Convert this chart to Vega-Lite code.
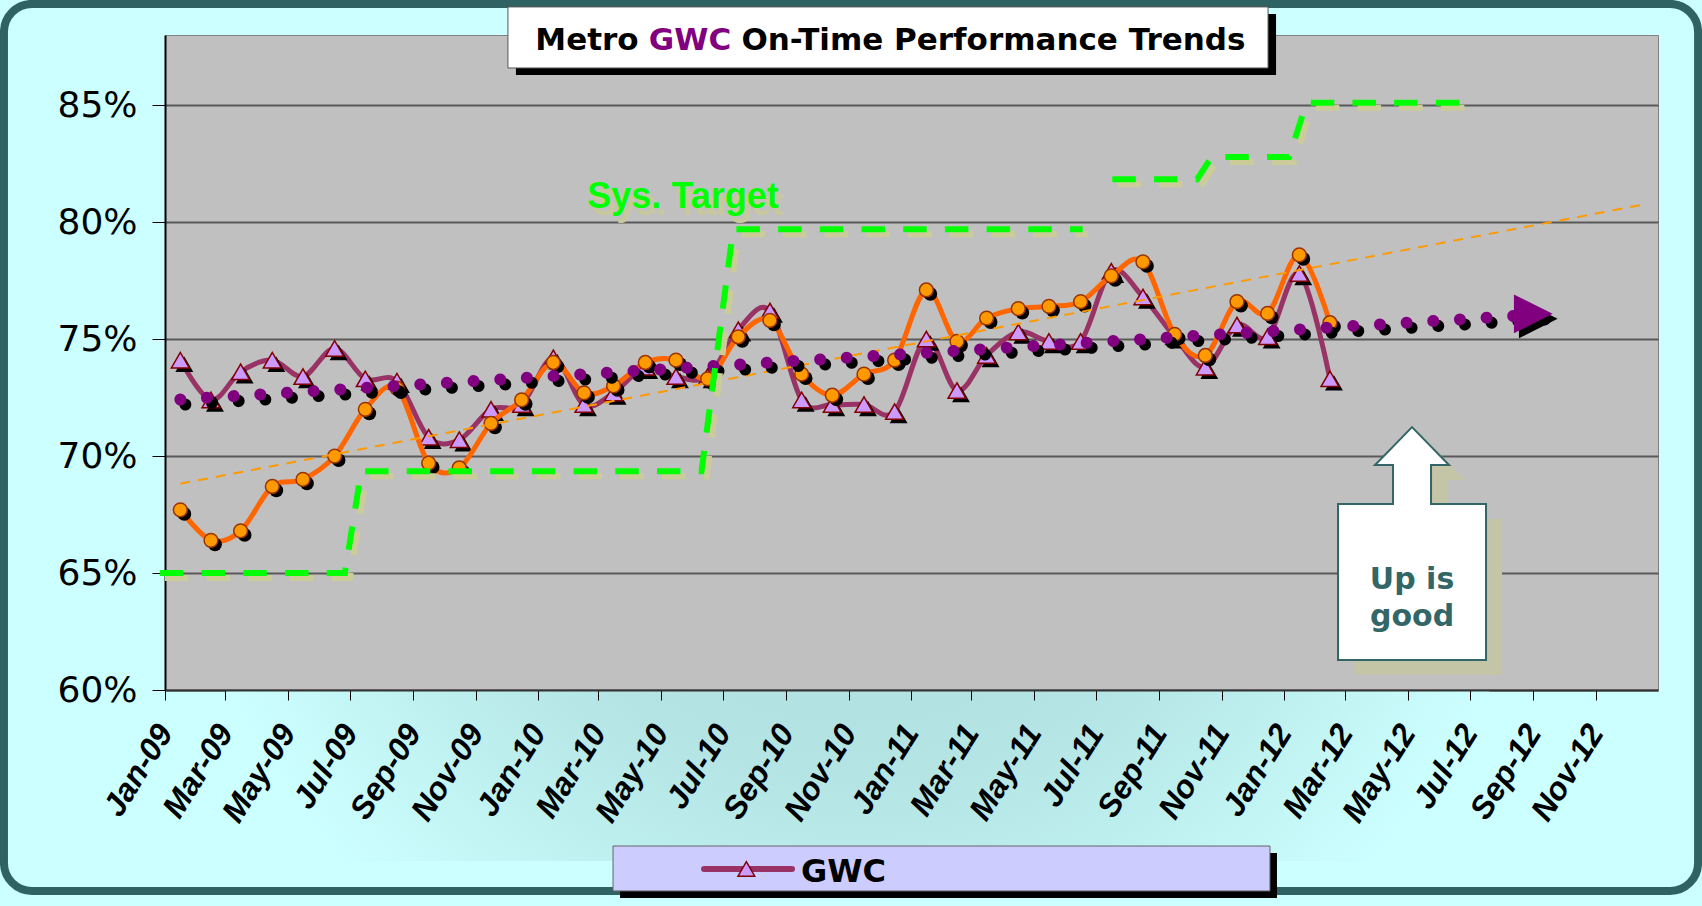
{
  "$schema": "https://vega.github.io/schema/vega-lite/v6.json",
  "width": 1493,
  "height": 655,
  "autosize": {"type": "none"},
  "padding": {"left": 165, "top": 35, "right": 44, "bottom": 216},
  "background": "#CCFFFF",
  "config": {"view": {"fill": "#C0C0C0", "stroke": "#808080", "strokeWidth": 1}},
  "datasets": {
    "monthly": [
      {"month": "2009-01-16", "GWC": 0.741, "System": 0.677},
      {"month": "2009-02-15", "GWC": 0.724, "System": 0.664},
      {"month": "2009-03-16", "GWC": 0.736, "System": 0.668},
      {"month": "2009-04-16", "GWC": 0.741, "System": 0.687},
      {"month": "2009-05-16", "GWC": 0.734, "System": 0.690},
      {"month": "2009-06-16", "GWC": 0.746, "System": 0.700},
      {"month": "2009-07-16", "GWC": 0.733, "System": 0.720},
      {"month": "2009-08-16", "GWC": 0.732, "System": 0.729},
      {"month": "2009-09-16", "GWC": 0.708, "System": 0.697},
      {"month": "2009-10-16", "GWC": 0.707, "System": 0.695},
      {"month": "2009-11-16", "GWC": 0.720, "System": 0.714},
      {"month": "2009-12-16", "GWC": 0.722, "System": 0.724},
      {"month": "2010-01-16", "GWC": 0.742, "System": 0.740},
      {"month": "2010-02-15", "GWC": 0.722, "System": 0.727},
      {"month": "2010-03-16", "GWC": 0.727, "System": 0.730},
      {"month": "2010-04-16", "GWC": 0.738, "System": 0.740},
      {"month": "2010-05-16", "GWC": 0.734, "System": 0.741},
      {"month": "2010-06-16", "GWC": 0.734, "System": 0.733},
      {"month": "2010-07-16", "GWC": 0.754, "System": 0.751},
      {"month": "2010-08-16", "GWC": 0.762, "System": 0.758},
      {"month": "2010-09-16", "GWC": 0.724, "System": 0.735},
      {"month": "2010-10-16", "GWC": 0.722, "System": 0.726},
      {"month": "2010-11-16", "GWC": 0.722, "System": 0.735},
      {"month": "2010-12-16", "GWC": 0.719, "System": 0.741},
      {"month": "2011-01-16", "GWC": 0.750, "System": 0.771},
      {"month": "2011-02-15", "GWC": 0.728, "System": 0.749},
      {"month": "2011-03-16", "GWC": 0.743, "System": 0.759},
      {"month": "2011-04-16", "GWC": 0.753, "System": 0.763},
      {"month": "2011-05-16", "GWC": 0.749, "System": 0.764},
      {"month": "2011-06-16", "GWC": 0.749, "System": 0.766},
      {"month": "2011-07-16", "GWC": 0.779, "System": 0.777},
      {"month": "2011-08-16", "GWC": 0.768, "System": 0.783},
      {"month": "2011-09-16", "GWC": 0.751, "System": 0.752},
      {"month": "2011-10-16", "GWC": 0.738, "System": 0.743},
      {"month": "2011-11-16", "GWC": 0.756, "System": 0.766},
      {"month": "2011-12-16", "GWC": 0.751, "System": 0.761},
      {"month": "2012-01-16", "GWC": 0.778, "System": 0.786},
      {"month": "2012-02-15", "GWC": 0.733, "System": 0.757}
    ],
    "trends": [
      {"series": "GWC", "month": "2009-01-16", "trend": 0.7242},
      {"series": "GWC", "month": "2012-09-16", "trend": 0.7608},
      {"series": "System", "month": "2009-01-16", "trend": 0.6882},
      {"series": "System", "month": "2012-12-16", "trend": 0.8074}
    ],
    "target": [
      {"segment": "A", "date": "2008-12-27", "target": 0.650},
      {"segment": "A", "date": "2009-06-26", "target": 0.650},
      {"segment": "A", "date": "2009-07-12", "target": 0.6935},
      {"segment": "A", "date": "2010-06-10", "target": 0.6935},
      {"segment": "A", "date": "2010-07-11", "target": 0.797},
      {"segment": "A", "date": "2011-06-18", "target": 0.797},
      {"segment": "B", "date": "2011-07-17", "target": 0.8183},
      {"segment": "B", "date": "2011-10-08", "target": 0.8183},
      {"segment": "B", "date": "2011-10-22", "target": 0.8278},
      {"segment": "B", "date": "2012-01-06", "target": 0.8278},
      {"segment": "B", "date": "2012-01-23", "target": 0.851},
      {"segment": "B", "date": "2012-06-26", "target": 0.851}
    ]
  },
  "layer": [
    {
      "data": {"values": [{}]},
      "mark": {"type": "rect", "fill": null, "fillOpacity": 0, "stroke": "#2F6363", "strokeWidth": 8, "cornerRadius": 28, "opacity": 1},
      "encoding": {
        "x": {"datum": {"year": 2008, "month": 7, "date": 27, "hours": 10}, "type": "temporal", "title": null},
        "x2": {"datum": {"year": 2013, "month": 2, "date": 9, "hours": 5}},
        "y": {"datum": 0.8933, "type": "quantitative", "title": null},
        "y2": {"datum": 0.5141}
      }
    },
    {
      "data": {"values": [{}]},
      "mark": {
        "type": "rect", "opacity": 1,
        "fill": {"gradient": "radial", "x1": 0.5, "y1": 0.2, "r1": 0, "x2": 0.5, "y2": 0.2, "r2": 0.55,
                 "stops": [{"offset": 0, "color": "#A9D9D9"}, {"offset": 0.55, "color": "#B4E4E4"}, {"offset": 1, "color": "#CCFFFF"}]}
      },
      "encoding": {
        "x": {"datum": {"year": 2009, "month": 3, "date": 2}, "type": "temporal", "title": null},
        "x2": {"datum": {"year": 2012, "month": 7, "date": 20}},
        "y": {"datum": 0.6, "type": "quantitative", "title": null},
        "y2": {"datum": 0.527}
      }
    },
    {
      "data": {"name": "monthly"},
      "mark": {"type": "line", "color": "#993366", "strokeWidth": 5, "interpolate": "cardinal"},
      "encoding": {
        "x": {
          "field": "month", "type": "temporal", "title": null,
          "scale": {"domain": [{"year": 2009, "month": 1, "date": 1}, {"year": 2013, "month": 1, "date": 1}]},
          "axis": {
            "values": [
              {"year": 2009, "month": 1, "date": 1}, {"year": 2009, "month": 3, "date": 1}, {"year": 2009, "month": 5, "date": 1},
              {"year": 2009, "month": 7, "date": 1}, {"year": 2009, "month": 9, "date": 1}, {"year": 2009, "month": 11, "date": 1},
              {"year": 2010, "month": 1, "date": 1}, {"year": 2010, "month": 3, "date": 1}, {"year": 2010, "month": 5, "date": 1},
              {"year": 2010, "month": 7, "date": 1}, {"year": 2010, "month": 9, "date": 1}, {"year": 2010, "month": 11, "date": 1},
              {"year": 2011, "month": 1, "date": 1}, {"year": 2011, "month": 3, "date": 1}, {"year": 2011, "month": 5, "date": 1},
              {"year": 2011, "month": 7, "date": 1}, {"year": 2011, "month": 9, "date": 1}, {"year": 2011, "month": 11, "date": 1},
              {"year": 2012, "month": 1, "date": 1}, {"year": 2012, "month": 3, "date": 1}, {"year": 2012, "month": 5, "date": 1},
              {"year": 2012, "month": 7, "date": 1}, {"year": 2012, "month": 9, "date": 1}, {"year": 2012, "month": 11, "date": 1}
            ],
            "format": "%b-%y",
            "labelAngle": -58, "labelAlign": "right", "labelBaseline": "middle",
            "labelFont": "Liberation Sans", "labelFontSize": 32, "labelFontWeight": "bold", "labelFontStyle": "italic",
            "labelColor": "#000000", "labelPadding": 27, "labelOverlap": false, "labelBound": false, "labelFlush": false,
            "tickSize": 10, "tickColor": "#000000", "tickWidth": 1,
            "domainColor": "#333333", "domainWidth": 2, "grid": false, "zindex": 1
          }
        },
        "y": {
          "field": "GWC", "type": "quantitative", "title": null,
          "scale": {"domain": [0.6, 0.88], "nice": false, "zero": false},
          "axis": {
            "values": [0.6, 0.65, 0.7, 0.75, 0.8, 0.85], "format": ".0%",
            "labelFont": "DejaVu Sans", "labelFontSize": 36, "labelColor": "#000000", "labelPadding": 15,
            "tickSize": 13, "tickColor": "#000000", "domainColor": "#000000", "domainWidth": 2,
            "grid": true, "gridColor": "#595959", "gridWidth": 2, "gridOpacity": 1
          }
        }
      }
    },
    {
      "data": {"name": "monthly"},
      "mark": {"type": "point", "shape": "triangle-up", "filled": true, "color": "#000000", "size": 320, "opacity": 1, "xOffset": 4, "yOffset": 4},
      "encoding": {
        "x": {"field": "month", "type": "temporal", "title": null},
        "y": {"field": "GWC", "type": "quantitative", "title": null}
      }
    },
    {
      "data": {"name": "monthly"},
      "mark": {"type": "point", "shape": "triangle-up", "filled": true, "fill": "#CC99FF", "stroke": "#800000", "strokeWidth": 1.5, "size": 320, "opacity": 1},
      "encoding": {
        "x": {"field": "month", "type": "temporal", "title": null},
        "y": {"field": "GWC", "type": "quantitative", "title": null}
      }
    },
    {
      "data": {"name": "monthly"},
      "mark": {"type": "line", "color": "#FF6600", "strokeWidth": 5, "interpolate": "cardinal"},
      "encoding": {
        "x": {"field": "month", "type": "temporal", "title": null},
        "y": {"field": "System", "type": "quantitative", "title": null}
      }
    },
    {
      "data": {"name": "monthly"},
      "mark": {"type": "point", "shape": "circle", "filled": true, "color": "#000000", "size": 190, "opacity": 1, "xOffset": 4, "yOffset": 4},
      "encoding": {
        "x": {"field": "month", "type": "temporal", "title": null},
        "y": {"field": "System", "type": "quantitative", "title": null}
      }
    },
    {
      "data": {"name": "monthly"},
      "mark": {"type": "point", "shape": "circle", "filled": true, "fill": "#FF9900", "stroke": "#993300", "strokeWidth": 1.5, "size": 190, "opacity": 1},
      "encoding": {
        "x": {"field": "month", "type": "temporal", "title": null},
        "y": {"field": "System", "type": "quantitative", "title": null}
      }
    },
    {
      "data": {"name": "trends"},
      "transform": [{"filter": "datum.series == 'System'"}],
      "mark": {"type": "line", "color": "#FF9900", "strokeWidth": 2, "strokeDash": [10, 8]},
      "encoding": {
        "x": {"field": "month", "type": "temporal", "title": null},
        "y": {"field": "trend", "type": "quantitative", "title": null}
      }
    },
    {
      "data": {"name": "trends"},
      "transform": [{"filter": "datum.series == 'GWC'"}],
      "mark": {"type": "line", "color": "#000000", "strokeWidth": 12, "strokeCap": "round", "strokeDash": [0.01, 26.7], "xOffset": 5, "yOffset": 5},
      "encoding": {
        "x": {"field": "month", "type": "temporal", "title": null},
        "y": {"field": "trend", "type": "quantitative", "title": null}
      }
    },
    {
      "data": {"name": "trends"},
      "transform": [{"filter": "datum.series == 'GWC'"}],
      "mark": {"type": "line", "color": "#800080", "strokeWidth": 12, "strokeCap": "round", "strokeDash": [0.01, 26.7]},
      "encoding": {
        "x": {"field": "month", "type": "temporal", "title": null},
        "y": {"field": "trend", "type": "quantitative", "title": null}
      }
    },
    {
      "data": {"name": "trends"},
      "transform": [{"filter": "datum.series == 'GWC' && datum.trend > 0.75"}],
      "mark": {"type": "point", "shape": "M-2,-1L0,0L-2,1Z", "filled": true, "color": "#000000", "size": 1500, "opacity": 1, "xOffset": 9, "yOffset": 5},
      "encoding": {
        "x": {"field": "month", "type": "temporal", "title": null},
        "y": {"field": "trend", "type": "quantitative", "title": null}
      }
    },
    {
      "data": {"name": "trends"},
      "transform": [{"filter": "datum.series == 'GWC' && datum.trend > 0.75"}],
      "mark": {"type": "point", "shape": "M-2,-1L0,0L-2,1Z", "filled": true, "color": "#800080", "size": 1500, "opacity": 1, "xOffset": 4},
      "encoding": {
        "x": {"field": "month", "type": "temporal", "title": null},
        "y": {"field": "trend", "type": "quantitative", "title": null}
      }
    },
    {
      "data": {"name": "target"},
      "mark": {"type": "line", "color": "#CCCC99", "strokeWidth": 6, "strokeDash": [23.5, 18.2], "xOffset": 5, "yOffset": 5},
      "encoding": {
        "x": {"field": "date", "type": "temporal", "title": null},
        "y": {"field": "target", "type": "quantitative", "title": null},
        "detail": {"field": "segment"}
      }
    },
    {
      "data": {"name": "target"},
      "mark": {"type": "line", "color": "#00FF00", "strokeWidth": 6, "strokeDash": [23.5, 18.2]},
      "encoding": {
        "x": {"field": "date", "type": "temporal", "title": null},
        "y": {"field": "target", "type": "quantitative", "title": null},
        "detail": {"field": "segment"}
      }
    },
    {
      "data": {"values": [{}]},
      "mark": {"type": "text", "text": "Sys. Target", "font": "Liberation Sans", "fontSize": 36, "fontWeight": "bold", "color": "#C8C89C", "align": "center", "baseline": "alphabetic", "dx": 5, "dy": 7},
      "encoding": {
        "x": {"datum": {"year": 2010, "month": 5, "date": 22, "hours": 22}, "type": "temporal", "title": null},
        "y": {"datum": 0.806, "type": "quantitative", "title": null}
      }
    },
    {
      "data": {"values": [{}]},
      "mark": {"type": "text", "text": "Sys. Target", "font": "Liberation Sans", "fontSize": 36, "fontWeight": "bold", "color": "#00FF00", "align": "center", "baseline": "alphabetic"},
      "encoding": {
        "x": {"datum": {"year": 2010, "month": 5, "date": 22, "hours": 22}, "type": "temporal", "title": null},
        "y": {"datum": 0.806, "type": "quantitative", "title": null}
      }
    },
    {
      "data": {"values": [{}]},
      "mark": {"type": "point", "shape": "M-74,-39L-19,-39L-19,-78L-37,-78L0,-116L37,-78L19,-78L19,-39L74,-39L74,117L-74,117Z", "filled": true, "color": "#C4C4A6", "size": 4, "opacity": 1, "xOffset": 16, "yOffset": 15},
      "encoding": {
        "x": {"datum": {"year": 2012, "month": 5, "date": 5, "hours": 7}, "type": "temporal", "title": null},
        "y": {"datum": 0.6628, "type": "quantitative", "title": null}
      }
    },
    {
      "data": {"values": [{}]},
      "mark": {"type": "point", "shape": "M-74,-39L-19,-39L-19,-78L-37,-78L0,-116L37,-78L19,-78L19,-39L74,-39L74,117L-74,117Z", "filled": true, "fill": "#FFFFFF", "stroke": "#336666", "strokeWidth": 2, "size": 4, "opacity": 1},
      "encoding": {
        "x": {"datum": {"year": 2012, "month": 5, "date": 5, "hours": 7}, "type": "temporal", "title": null},
        "y": {"datum": 0.6628, "type": "quantitative", "title": null}
      }
    },
    {
      "data": {"values": [{}]},
      "mark": {"type": "text", "text": ["Up is", "good"], "font": "DejaVu Sans", "fontSize": 30, "fontWeight": "bold", "color": "#336666", "align": "center", "baseline": "middle", "lineHeight": 37},
      "encoding": {
        "x": {"datum": {"year": 2012, "month": 5, "date": 5, "hours": 7}, "type": "temporal", "title": null},
        "y": {"datum": 0.647, "type": "quantitative", "title": null}
      }
    },
    {
      "data": {"values": [{}]},
      "mark": {"type": "rect", "color": "#000000", "opacity": 1, "xOffset": 8, "x2Offset": 8, "yOffset": 7, "y2Offset": 7},
      "encoding": {
        "x": {"datum": {"year": 2009, "month": 12, "date": 2, "hours": 14}, "type": "temporal", "title": null},
        "x2": {"datum": {"year": 2011, "month": 12, "date": 16, "hours": 10}},
        "y": {"datum": 0.892, "type": "quantitative", "title": null},
        "y2": {"datum": 0.8659}
      }
    },
    {
      "data": {"values": [{}]},
      "mark": {"type": "rect", "fill": "#FFFFFF", "stroke": "#555555", "strokeWidth": 1, "opacity": 1},
      "encoding": {
        "x": {"datum": {"year": 2009, "month": 12, "date": 2, "hours": 14}, "type": "temporal", "title": null},
        "x2": {"datum": {"year": 2011, "month": 12, "date": 16, "hours": 10}},
        "y": {"datum": 0.892, "type": "quantitative", "title": null},
        "y2": {"datum": 0.8659}
      }
    },
    {
      "data": {"values": [{}]},
      "mark": {"type": "text", "text": "Metro", "font": "DejaVu Sans", "fontSize": 31, "fontWeight": "bold", "color": "#000000", "align": "right", "baseline": "alphabetic", "dx": -51.4},
      "encoding": {
        "x": {"datum": {"year": 2010, "month": 5, "date": 29, "hours": 19}, "type": "temporal", "title": null},
        "y": {"datum": 0.8736, "type": "quantitative", "title": null}
      }
    },
    {
      "data": {"values": [{}]},
      "mark": {"type": "text", "text": "GWC", "font": "DejaVu Sans", "fontSize": 31, "fontWeight": "bold", "color": "#800080", "align": "center", "baseline": "alphabetic"},
      "encoding": {
        "x": {"datum": {"year": 2010, "month": 5, "date": 29, "hours": 19}, "type": "temporal", "title": null},
        "y": {"datum": 0.8736, "type": "quantitative", "title": null}
      }
    },
    {
      "data": {"values": [{}]},
      "mark": {"type": "text", "text": "On-Time Performance Trends", "font": "DejaVu Sans", "fontSize": 31, "fontWeight": "bold", "color": "#000000", "align": "left", "baseline": "alphabetic", "dx": 51.4},
      "encoding": {
        "x": {"datum": {"year": 2010, "month": 5, "date": 29, "hours": 19}, "type": "temporal", "title": null},
        "y": {"datum": 0.8736, "type": "quantitative", "title": null}
      }
    },
    {
      "data": {"values": [{}]},
      "mark": {"type": "rect", "color": "#000000", "opacity": 1, "xOffset": 7, "x2Offset": 7, "yOffset": 7, "y2Offset": 7},
      "encoding": {
        "x": {"datum": {"year": 2010, "month": 3, "date": 15, "hours": 10}, "type": "temporal", "title": null},
        "x2": {"datum": {"year": 2011, "month": 12, "date": 18, "hours": 7}},
        "y": {"datum": 0.5333, "type": "quantitative", "title": null},
        "y2": {"datum": 0.5141}
      }
    },
    {
      "data": {"values": [{}]},
      "mark": {"type": "rect", "fill": "#CCCCFF", "stroke": "#666666", "strokeWidth": 1, "opacity": 1},
      "encoding": {
        "x": {"datum": {"year": 2010, "month": 3, "date": 15, "hours": 10}, "type": "temporal", "title": null},
        "x2": {"datum": {"year": 2011, "month": 12, "date": 18, "hours": 7}},
        "y": {"datum": 0.5333, "type": "quantitative", "title": null},
        "y2": {"datum": 0.5141}
      }
    },
    {
      "data": {"values": [{}]},
      "mark": {"type": "rule", "color": "#993366", "strokeWidth": 6, "strokeCap": "round"},
      "encoding": {
        "x": {"datum": {"year": 2010, "month": 6, "date": 12, "hours": 12}, "type": "temporal", "title": null},
        "x2": {"datum": {"year": 2010, "month": 9, "date": 6, "hours": 14}},
        "y": {"datum": 0.5235, "type": "quantitative", "title": null}
      }
    },
    {
      "data": {"values": [{}]},
      "mark": {"type": "point", "shape": "triangle-up", "filled": true, "fill": "#CC99FF", "stroke": "#800000", "strokeWidth": 1.5, "size": 280, "opacity": 1},
      "encoding": {
        "x": {"datum": {"year": 2010, "month": 7, "date": 23, "hours": 22}, "type": "temporal", "title": null},
        "y": {"datum": 0.5235, "type": "quantitative", "title": null}
      }
    },
    {
      "data": {"values": [{}]},
      "mark": {"type": "text", "text": "GWC", "font": "DejaVu Sans", "fontSize": 32, "fontWeight": "bold", "color": "#000000", "align": "left", "baseline": "alphabetic"},
      "encoding": {
        "x": {"datum": {"year": 2010, "month": 9, "date": 15, "hours": 10}, "type": "temporal", "title": null},
        "y": {"datum": 0.518, "type": "quantitative", "title": null}
      }
    }
  ]
}
